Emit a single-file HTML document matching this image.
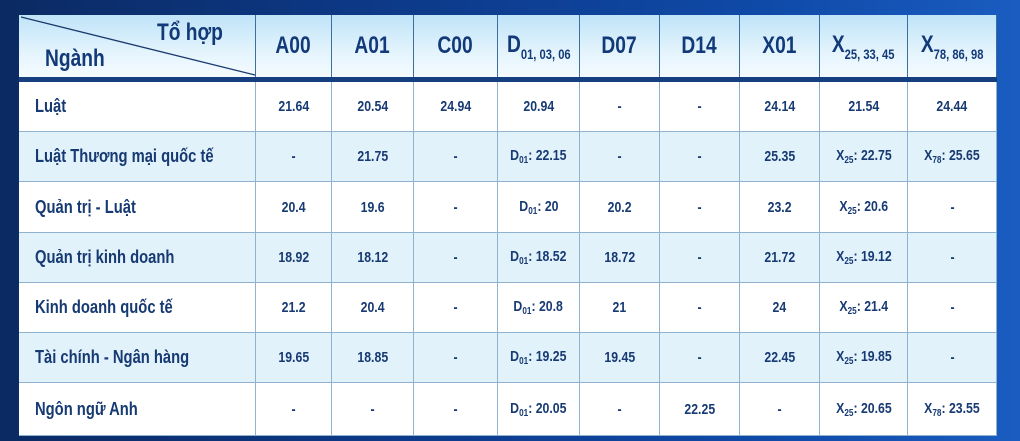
<!DOCTYPE html>
<html><head><meta charset="utf-8">
<style>
html,body{margin:0;padding:0;}
body{width:1020px;height:441px;overflow:hidden;position:relative;
 background:linear-gradient(90deg,#0b2a63 0%,#0d3a8a 40%,#0f4aa8 75%,#1a5cc0 100%);
 font-family:"Liberation Sans",sans-serif;}
#tbl{position:absolute;left:19px;top:15px;width:978px;height:421px;}
.hd{position:absolute;top:0;height:62px;background:linear-gradient(180deg,#bfe3f8 0%,#e4f4fd 60%,#f4fbff 100%);
 border-right:1px solid #3d6f9e;box-sizing:border-box;color:#133a78;font-weight:bold;font-size:24px;
 display:flex;align-items:center;justify-content:center;}
.hd span{display:inline-block;transform:scaleX(0.8);white-space:nowrap;}
.hd sub{font-size:14px;vertical-align:-7px;}
.band{position:absolute;left:0;top:62px;width:978px;height:5px;background:#163f80;}
.c{position:absolute;box-sizing:border-box;border-right:1px solid #8fb3cf;border-bottom:1px solid #8fb3cf;
 color:#173a73;font-weight:bold;font-size:15px;display:flex;align-items:center;justify-content:center;}
.c span{display:inline-block;transform:scaleX(0.82);white-space:nowrap;}
.c sub{font-size:10px;vertical-align:-3px;}
.nm{justify-content:flex-start;padding-left:16px;font-size:18px;}
.nm span{transform-origin:0 50%;}
</style></head>
<body>
<div id="tbl"></div>
<script>
const majors=["Luật","Luật Thương mại quốc tế","Quản trị - Luật","Quản trị kinh doanh","Kinh doanh quốc tế","Tài chính - Ngân hàng","Ngôn ngữ Anh"];
const headers=["A00","A01","C00","D|01, 03, 06","D07","D14","X01","X|25, 33, 45","X|78, 86, 98"];
const rowA00=["21.64","-","20.4","18.92","21.2","19.65","-"];
const rowA01=["20.54","21.75","19.6","18.12","20.4","18.85","-"];
const rowC00=["24.94","-","-","-","-","-","-"];
const rowD01=["20.94","D01: 22.15","D01: 20","D01: 18.52","D01: 20.8","D01: 19.25","D01: 20.05"];
const rowD07=["-","-","20.2","18.72","21","19.45","-"];
const rowD14=["-","-","-","-","-","-","22.25"];
const rowX01=["24.14","25.35","23.2","21.72","24","22.45","-"];
const rowX25=["21.54","X25: 22.75","X25: 20.6","X25: 19.12","X25: 21.4","X25: 19.85","X25: 20.65"];
const rowX78=["24.44","X78: 25.65","-","-","-","-","X78: 23.55"];
const cols=[rowA00,rowA01,rowC00,rowD01,rowD07,rowD14,rowX01,rowX25,rowX78];
const colEdges=[0,237,313,395,479,561,641,721,801,889,978];
const rowEdges=[67,117,167,218,268,318,368,421];
const t=document.getElementById('tbl');
function fmt(s){const m=s.match(/^([A-Z])(\d+): (.*)$/);return '<span>'+(m?m[1]+'<sub>'+m[2]+'</sub>: '+m[3]:s)+'</span>';}
const corner=document.createElement('div');
corner.className='hd';corner.style.left='0px';corner.style.width=colEdges[1]+'px';corner.style.display='block';
corner.innerHTML='<svg width="237" height="62" style="position:absolute;left:0;top:0"><line x1="2" y1="2" x2="236" y2="60" stroke="#1a3a6e" stroke-width="1.3"/></svg><span style="position:absolute;left:138px;top:4px;transform-origin:0 0">Tổ hợp</span><span style="position:absolute;left:26px;top:30px;transform-origin:0 0">Ngành</span>';


t.appendChild(corner);
headers.forEach((h,i)=>{
 const d=document.createElement('div');d.className='hd';
 d.style.left=colEdges[i+1]+'px';d.style.width=(colEdges[i+2]-colEdges[i+1])+'px';
 const p=h.split('|');d.innerHTML='<span>'+(p.length>1?p[0]+'<sub>'+p[1]+'</sub>':h)+'</span>';
 
 
 t.appendChild(d);
});
const band=document.createElement('div');band.className='band';


t.appendChild(band);
majors.forEach((m,r)=>{
 const y=rowEdges[r],h=rowEdges[r+1]-rowEdges[r];const bg=r%2?'#e2f2fb':'#ffffff';
 const n=document.createElement('div');n.className='c nm';
 n.style.cssText+=`left:0;top:${y}px;width:${colEdges[1]}px;height:${h}px;background:${bg}`;
 n.innerHTML='<span>'+m+'</span>';
 
 
 t.appendChild(n);
 cols.forEach((col,i)=>{
  const d=document.createElement('div');d.className='c';
  d.style.cssText+=`left:${colEdges[i+1]}px;top:${y}px;width:${colEdges[i+2]-colEdges[i+1]}px;height:${h}px;background:${bg}`;
  d.innerHTML=fmt(col[r]);
  
  
  t.appendChild(d);
 });
});
</script>
</body></html>
